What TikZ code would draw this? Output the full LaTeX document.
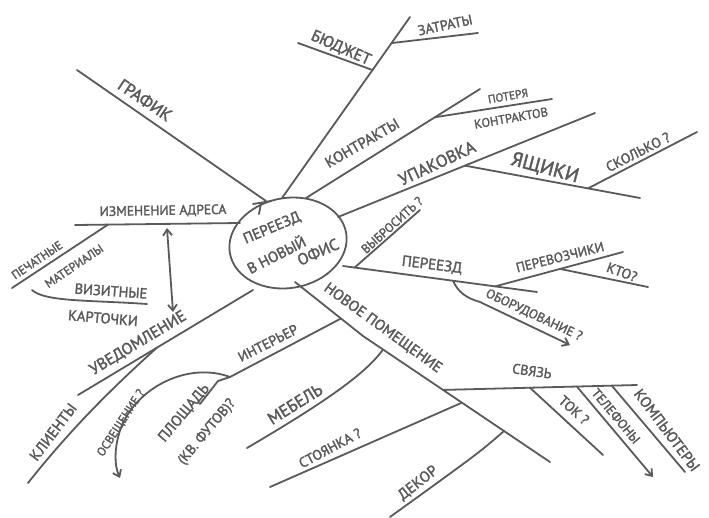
\documentclass[tikz,border=0pt]{standalone}
\usepackage{fontspec}
\setmainfont{PT Sans}[BoldFont=PT Sans, BoldFeatures={FakeBold=2}]
\usetikzlibrary{calc,arrows.meta,shapes.geometric}
\definecolor{ink}{RGB}{90,90,90}
\begin{document}
\begin{tikzpicture}[x=1pt,y=-1pt,
  ln/.style={draw=ink,line width=1.8pt,line cap=round,line join=round},
  arrowend/.style={-{Straight Barb[length=6pt,width=9pt]}},
  bothends/.style={{Straight Barb[length=6pt,width=9pt]}-{Straight Barb[length=6pt,width=9pt]}},
  lbl/.style={text=ink,inner sep=0pt,font=\fontsize{#1}{#1}\selectfont\bfseries},
]
\fill[white] (0,0) rectangle (709,517);
\useasboundingbox (0,0) rectangle (709,517);

% ---------- hub ----------
\node[draw=ink,line width=1.8pt,ellipse,minimum width=118pt,minimum height=90pt,rotate=10] (hub) at (288,243) {};
\node[lbl=15,rotate=23] (thub1) at (272,228) {ПЕРЕЕЗД};
\node[lbl=15,rotate=27] (thub2) at (276,254) {В НОВЫЙ};
\node[lbl=16,rotate=24] (thub3) at (318,252) {ОФИС};

% ---------- ГРАФИК ----------
\coordinate (g1) at (77,70); \coordinate (g0) at (266,201);
\coordinate (gf1) at (253,204); \coordinate (gf2) at (271,201);
\coordinate (gf3) at (261,203); \coordinate (gf4) at (259,214);
\draw[ln] (g1) -- (g0);
\draw[ln] (gf1) -- (gf2); \draw[ln] (gf3) -- (gf4);
\node[lbl=17,rotate=-34] (tgraf) at (145,100) {ГРАФИК};

% ---------- БЮДЖЕТ ----------
\coordinate (b0) at (282,198); \coordinate (b1) at (410,17);
\coordinate (bj) at ($(b0)!0.707!(b1)$); \coordinate (b2) at (298,43);
\coordinate (zj) at ($(b0)!0.856!(b1)$); \coordinate (z1) at (478,33);
\draw[ln] (b0) -- (b1);
\draw[ln] (bj) -- (b2);
\draw[ln] (zj) -- (z1);
\node[lbl=16,rotate=-24] (tbud) at (341,48) {БЮДЖЕТ};
\node[lbl=14,rotate=12] (tzat) at (445,25) {ЗАТРАТЫ};

% ---------- КОНТРАКТЫ ----------
\coordinate (k0) at (306,198); \coordinate (k1) at (480,89);
\coordinate (kj) at ($(k0)!0.741!(k1)$); \coordinate (k2) at (552,99);
\draw[ln] (k0) -- (k1);
\draw[ln] (kj) -- (k2);
\node[lbl=15,rotate=30] (tkon) at (362,143) {КОНТРАКТЫ};
\node[lbl=11.5,rotate=10] (tpot) at (508,96) {ПОТЕРЯ};
\node[lbl=12.5,rotate=10] (tpotk) at (511,118) {КОНТРАКТОВ};

% ---------- УПАКОВКА ----------
\coordinate (u0) at (338,217); \coordinate (u1) at (595,113);
\coordinate (yj) at ($(u0)!0.494!(u1)$); \coordinate (y1) at (640,198);
\coordinate (sj) at ($(yj)!0.703!(y1)$); \coordinate (s1) at (697,132);
\draw[ln] (u0) -- (u1);
\draw[ln] (yj) -- (y1);
\draw[ln] (sj) -- (s1);
\node[lbl=17,rotate=25] (tupak) at (437,163) {УПАКОВКА};
\node[lbl=20,rotate=-15] (tyash) at (545,168) {ЯЩИКИ};
\node[lbl=14,rotate=27] (tskol) at (638,152) {СКОЛЬКО ?};

% ---------- ПЕРЕЕЗД ----------
\coordinate (p0) at (343,266); \coordinate (p1) at (537,292);
\coordinate (v0) at ($(p0)!0.06!(p1)$); \coordinate (v1) at (420,210);
\coordinate (pj1) at ($(p0)!0.567!(p1)$);
\coordinate (pj2) at ($(p0)!0.784!(p1)$); \coordinate (p2) at (623,252);
\coordinate (kj2) at ($(pj2)!0.508!(p2)$); \coordinate (kt1) at (648,287);
\coordinate (ob0) at (480,302); \coordinate (ob1) at (570,345);
\draw[ln] (p0) -- (p1);
\draw[ln] (v0) -- (v1);
\draw[ln] (pj2) -- (p2);
\draw[ln] (kj2) -- (kt1);
\draw[ln,arrowend] (pj1) .. controls (458,292) and (466,298) .. (ob0) -- (ob1);
\node[lbl=12.5,rotate=42] (tvyb) at (392,225) {ВЫБРОСИТЬ ?};
\node[lbl=15,rotate=-7] (tper) at (432,265) {ПЕРЕЕЗД};
\node[lbl=13.5,rotate=14] (tperev) at (560,257) {ПЕРЕВОЗЧИКИ};
\node[lbl=14,rotate=-20] (tkto) at (622,272) {КТО?};
\node[lbl=13,rotate=-25] (tobor) at (534,315) {ОБОРУДОВАНИЕ ?};

% ---------- НОВОЕ ПОМЕЩЕНИЕ ----------
\coordinate (n0) at (295,282); \coordinate (nm) at (363,336); \coordinate (n1) at (550,462);
\draw[ln] (n0) -- (nm) -- (n1);
\node[lbl=15,rotate=-36] (tnov) at (383,328) {НОВОЕ ПОМЕЩЕНИЕ};
% СВЯЗЬ
\coordinate (sv0) at ($(nm)!0.428!(n1)$); \coordinate (sv1) at (637,385);
\coordinate (tj) at ($(sv0)!0.448!(sv1)$); \coordinate (tk1) at (603,455);
\coordinate (tlj) at ($(sv0)!0.69!(sv1)$); \coordinate (tl1) at (653,477);
\coordinate (kmj) at ($(sv0)!0.87!(sv1)$); \coordinate (km1) at (685,472);
\draw[ln] (sv0) -- (sv1);
\draw[ln] (tj) -- (tk1);
\draw[ln,arrowend] (tlj) -- (tl1);
\draw[ln] (kmj) -- (km1);
\node[lbl=14,rotate=-8] (tsv) at (532,371) {СВЯЗЬ};
\node[lbl=14,rotate=-42] (ttok) at (574,410) {ТОК ?};
\node[lbl=13,rotate=-50] (ttel) at (616,416) {ТЕЛЕФОНЫ};
\node[lbl=15,rotate=-53] (tkomp) at (667,430) {КОМПЬЮТЕРЫ};
% ДЕКОР
\coordinate (dj) at ($(nm)!0.754!(n1)$); \coordinate (d1) at (390,517);
\draw[ln] (dj) .. controls (480,452) .. (d1);
\node[lbl=15,rotate=38] (tdek) at (418,483) {ДЕКОР};
% СТОЯНКА
\coordinate (stj) at ($(nm)!0.529!(n1)$); \coordinate (st1) at (270,487);
\draw[ln] (stj) -- (st1);
\node[lbl=14,rotate=28] (tstoy) at (330,448) {СТОЯНКА ?};
% МЕБЕЛЬ
\coordinate (mj) at ($(nm)!0.107!(n1)$); \coordinate (m1) at (247,448);
\draw[ln] (mj) .. controls (365,375) and (320,405) .. (m1);
\node[lbl=17,rotate=32] (tmeb) at (295,404) {МЕБЕЛЬ};
% ИНТЕРЬЕР
\coordinate (ij) at ($(n0)!0.676!(nm)$); \coordinate (i1) at (230,377);
\coordinate (ar1) at (120,478);
\coordinate (pl1) at (218,381); \coordinate (pl2) at (200,404);
\draw[ln] (ij) -- (i1);
\draw[ln,arrowend] (i1) .. controls (190,362) and (140,385) .. (122,425)
   .. controls (114,445) and (114,465) .. (ar1);
\draw[ln] (i1) -- (pl1) -- (pl2);
\node[lbl=14,rotate=27] (tint) at (268,343) {ИНТЕРЬЕР};
\node[lbl=15,rotate=50] (tplo) at (184,413) {ПЛОЩАДЬ};
\node[lbl=14,rotate=50] (tkv) at (207,432) {(КВ. ФУТОВ)?};
\node[lbl=12,rotate=57] (tosv) at (121,423) {ОСВЕЩЕНИЕ ?};

% ---------- УВЕДОМЛЕНИЕ ----------
\coordinate (uv0) at (253,290); \coordinate (uv1) at (78,395);
\coordinate (klj) at ($(uv0)!0.549!(uv1)$); \coordinate (kl1) at (28,483);
\draw[ln] (uv0) -- (uv1);
\draw[ln] (klj) .. controls (110,390) and (70,430) .. (kl1);
\node[lbl=16,rotate=31] (tuved) at (138,343) {УВЕДОМЛЕНИЕ};
\node[lbl=15,rotate=53] (tkli) at (53,432) {КЛИЕНТЫ};

% ---------- ИЗМЕНЕНИЕ АДРЕСА ----------
\coordinate (iz0) at (240,223); \coordinate (iz1) at (75,225);
\coordinate (pej) at ($(iz1)!0.2!(iz0)$); \coordinate (pe1) at (12,288);
\coordinate (vz0) at (32,290); \coordinate (vz1) at (147,304);
\draw[ln] (iz1) -- (iz0);
\draw[ln] (pej) -- (pe1);
\draw[ln] (vz0) .. controls (45,302) and (90,300) .. (vz1);
\node[lbl=13.5,rotate=1] (tizm) at (163,211) {ИЗМЕНЕНИЕ АДРЕСА};
\node[lbl=12,rotate=34] (tpech) at (37,260) {ПЕЧАТНЫЕ};
\node[lbl=12,rotate=34] (tmat) at (74,266) {МАТЕРИАЛЫ};
\node[lbl=14.5,rotate=-4] (tviz) at (111,291) {ВИЗИТНЫЕ};
\node[lbl=14.5,rotate=-5] (tkart) at (103,318) {КАРТОЧКИ};

% double arrow between ИЗМЕНЕНИЕ АДРЕСА and УВЕДОМЛЕНИЕ
\coordinate (da1) at (167,228); \coordinate (da2) at (173,312);
\draw[ln,bothends] (da1) -- (da2);
\end{tikzpicture}
\end{document}
